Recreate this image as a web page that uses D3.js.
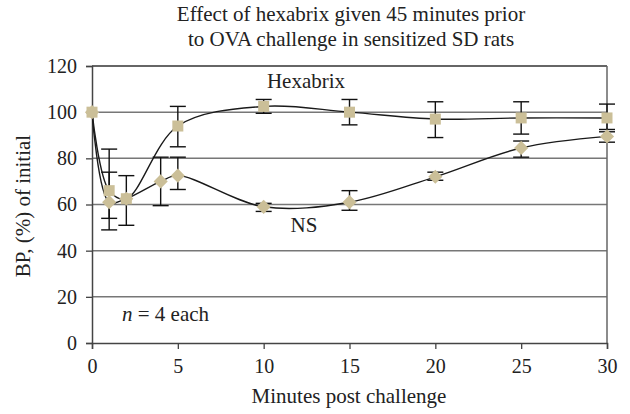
<!DOCTYPE html>
<html>
<head>
<meta charset="utf-8">
<script src="https://cdn.jsdelivr.net/npm/d3@7"></script>
<style>
  html, body { margin: 0; padding: 0; background: #fff; }
</style>
</head>
<body>
<svg id="chart" width="630" height="414"></svg>
<script>
// minutes post challenge
const hexTimes = [0, 1, 2, 5, 10, 15, 20, 25, 30]
const hexValues = [100, 66, 62.5, 94, 102.5, 100, 97, 97.5, 97.5]
const hexHigh = [100, 84, 72.5, 102.5, 105.5, 105.5, 104.5, 104.5, 103.5]
const hexLow = [100, 49, 51, 85, 99.5, 94.5, 89, 90.5, 92.5]

const nsTimes = [0, 1, 2, 4, 5, 10, 15, 20, 25, 30]
const nsValues = [100, 61, 62.5, 70, 72.5, 59, 61, 72, 84.5, 89.5]
const nsHigh = [100, 74, 62.5, 80.5, 80.5, 60.5, 66, 74, 87.5, 91.5]
const nsLow = [100, 54, 62.5, 59.5, 66.5, 57, 57.5, 70.5, 80.5, 87]

const xTicks = [0, 5, 10, 15, 20, 25, 30]
const yTicks = [0, 20, 40, 60, 80, 100, 120]

const titleLines = ['Effect of hexabrix given 45 minutes prior', 'to OVA challenge in sensitized SD rats']

const width = 630
const height = 414
const margin = { top: 66, right: 23, bottom: 71, left: 92 }

const markerColor = '#cbbf98'
const serif = "'Liberation Serif'"
const textColor = '#222'

const svg = d3.select('#chart')
  .attr('viewBox', `0 0 ${width} ${height}`)

const x = d3.scaleLinear()
  .domain([0, 30])
  .range([margin.left, width - margin.right])

const y = d3.scaleLinear()
  .domain([0, 120])
  .range([height - margin.bottom, margin.top])

// gridlines
svg.append('g')
  .selectAll('line')
  .data(yTicks.filter(d => d > 0))
  .enter().append('line')
  .attr('x1', x(0))
  .attr('x2', x(30))
  .attr('y1', d => y(d))
  .attr('y2', d => y(d))
  .attr('stroke', d => d === 120 ? '#333' : '#777')
  .attr('stroke-width', 1.5)

// right border
svg.append('line')
  .attr('x1', x(30)).attr('x2', x(30))
  .attr('y1', y(120)).attr('y2', y(0))
  .attr('stroke', '#666')
  .attr('stroke-width', 1.5)

// axes
const xAxis = svg.append('g')
  .attr('transform', `translate(0,${y(0)})`)
  .call(d3.axisBottom(x).tickValues(xTicks).tickSize(6).tickPadding(6))
const yAxis = svg.append('g')
  .attr('transform', `translate(${x(0)},0)`)
  .call(d3.axisLeft(y).tickValues(yTicks).tickSize(6).tickPadding(9))

;[xAxis, yAxis].forEach(ax => {
  ax.select('.domain').attr('stroke', '#444').attr('stroke-width', 1.5)
  ax.selectAll('.tick line').attr('stroke', '#444').attr('stroke-width', 1.3)
  ax.selectAll('.tick text')
    .style('font-family', serif)
    .style('font-size', '20px')
    .attr('fill', textColor)
})
xAxis.selectAll('.tick text').attr('dy', '0.9em')

// smoothed lines
const line = d3.line()
  .x(d => x(d[0]))
  .y(d => y(d[1]))
  .curve(d3.curveCatmullRom.alpha(0.5))

const hexData = hexTimes.map((t, i) => ({ t, v: hexValues[i], hi: hexHigh[i], lo: hexLow[i] }))
const nsData = nsTimes.map((t, i) => ({ t, v: nsValues[i], hi: nsHigh[i], lo: nsLow[i] }))

svg.append('path')
  .datum(nsData.map(d => [d.t, d.v]))
  .attr('d', line)
  .attr('fill', 'none')
  .attr('stroke', '#1a1a1a')
  .attr('stroke-width', 1.4)

svg.append('path')
  .datum(hexData.map(d => [d.t, d.v]))
  .attr('d', line)
  .attr('fill', 'none')
  .attr('stroke', '#1a1a1a')
  .attr('stroke-width', 1.4)

// error bars
const drawErr = (data) => {
  const g = svg.append('g')
    .selectAll('g')
    .data(data.filter(d => d.hi !== d.lo))
    .enter().append('g')
  g.append('line')
    .attr('x1', d => x(d.t)).attr('x2', d => x(d.t))
    .attr('y1', d => y(d.hi)).attr('y2', d => y(d.lo))
  g.append('line')
    .attr('x1', d => x(d.t) - 8).attr('x2', d => x(d.t) + 8)
    .attr('y1', d => y(d.hi)).attr('y2', d => y(d.hi))
  g.append('line')
    .attr('x1', d => x(d.t) - 8).attr('x2', d => x(d.t) + 8)
    .attr('y1', d => y(d.lo)).attr('y2', d => y(d.lo))
  g.selectAll('line')
    .attr('stroke', '#111')
    .attr('stroke-width', 1.4)
}
drawErr(nsData)
drawErr(hexData)

// markers
svg.append('g')
  .selectAll('path')
  .data(nsData)
  .enter().append('path')
  .attr('transform', d => `translate(${x(d.t)},${y(d.v)}) rotate(45)`)
  .attr('d', 'M-5,-5H5V5H-5Z')
  .attr('fill', markerColor)

svg.append('g')
  .selectAll('rect')
  .data(hexData)
  .enter().append('rect')
  .attr('x', d => x(d.t) - 5.5)
  .attr('y', d => y(d.v) - 5.5)
  .attr('width', 11)
  .attr('height', 11)
  .attr('fill', markerColor)

const addText = (px, py, str, size = 21) => svg.append('text')
  .attr('x', px)
  .attr('y', py)
  .attr('text-anchor', 'middle')
  .attr('fill', textColor)
  .style('font-family', serif)
  .style('font-size', size + 'px')
  .text(str)

// title
addText(351, 21, titleLines[0])
addText(351, 46, titleLines[1])

// axis titles
addText(349, 403, 'Minutes post challenge')
addText(0, 0, 'BP, (%) of initial')
  .attr('transform', 'translate(30,206) rotate(-90)')

// annotations
addText(306, 88, 'Hexabrix')
addText(304, 232, 'NS')

const nText = addText(122, 321, '')
  .attr('text-anchor', 'start')
nText.append('tspan').style('font-style', 'italic').text('n')
nText.append('tspan').text(' = 4 each')
</script>
</body>
</html>
